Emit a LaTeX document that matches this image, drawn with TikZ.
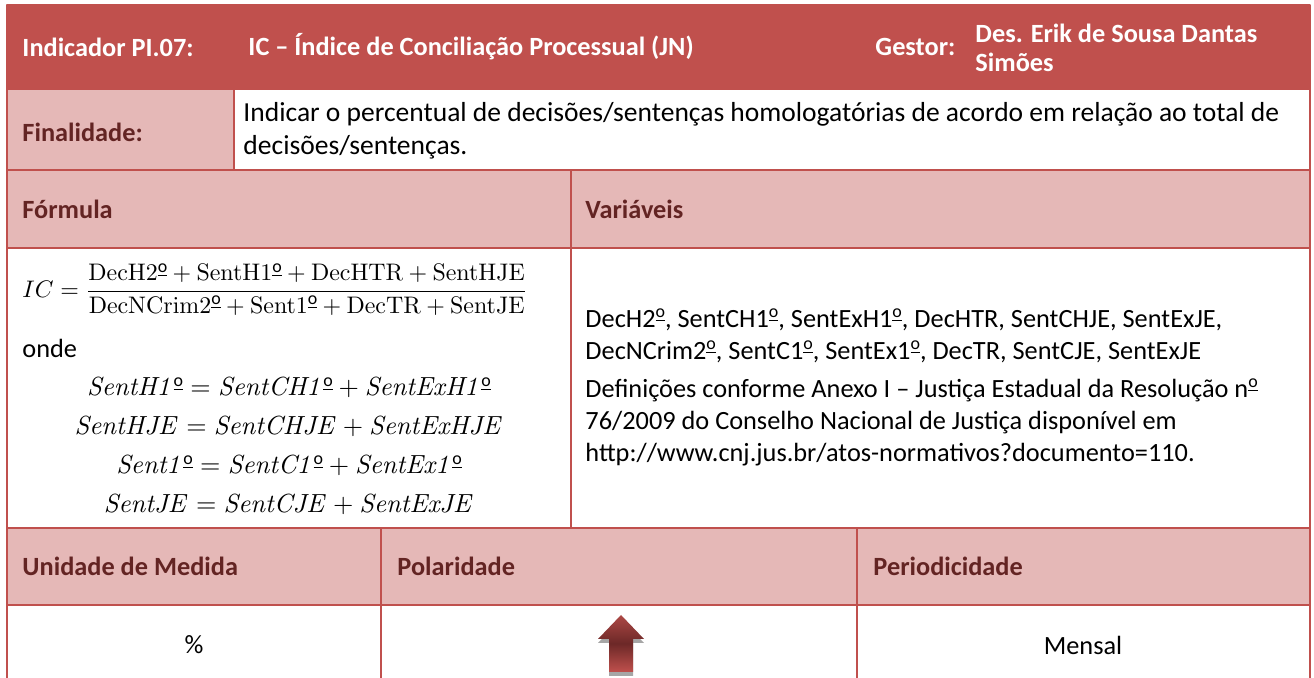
\documentclass[tikz,border=0pt]{standalone}
\usepackage{amsmath}
\usepackage[no-math]{fontspec}
\setmainfont{Carlito}
\definecolor{cabec}{HTML}{C0504D}
\definecolor{rosa}{HTML}{E5B8B7}
\definecolor{vinho}{HTML}{632423}
\definecolor{sombra}{HTML}{A6A6A6}
\newcommand{\ordm}{\raisebox{0.36em}{\fontsize{7.5}{7.5}\selectfont\underline{\smash{o}}}}
\newcommand{\mordm}{\text{\ordm}}
\begin{document}
\begin{tikzpicture}[x=0.418pt,y=-0.418pt,line join=round,font=\fontsize{11}{13.4}\selectfont]
	\tikzset{titulo/.style={anchor=west,inner sep=0pt,text=white,font=\fontsize{11}{12.2}\selectfont\bfseries},
		rotulo/.style={anchor=west,inner sep=0pt,text=vinho,font=\fontsize{11}{13.4}\selectfont\bfseries},
		texto/.style={anchor=west,align=left,inner sep=0pt},
		borda/.style={draw=cabec,line width=0.8pt}}
	\def \xa{7}\def \xb{1310}
	\useasboundingbox (0,0) rectangle (1314,678);
	% fundos
	\fill[cabec] (\xa,5) rectangle (\xb,89);
	\fill[rosa] (\xa,89) rectangle (234,170);
	\fill[rosa] (\xa,170) rectangle (\xb,248);
	\fill[rosa] (\xa,528) rectangle (\xb,605);
	% grade
	\draw[borda] (\xa,678)--(\xa,5)--(\xb,5)--(\xb,678);
	\draw[borda] (\xa,89)--(\xb,89) (\xa,170)--(\xb,170) (\xa,248)--(\xb,248)
	(\xa,528)--(\xb,528) (\xa,605)--(\xb,605);
	\draw[borda] (234,89)--(234,170) (571,170)--(571,528)
	(381,528)--(381,678) (857,528)--(857,678);
	% cabecalho
	\node[titulo] (ind) at (22,47) {Indicador PI.07:};
	\node[titulo] (nome) at (248,47) {IC – Índice de Conciliação Processual (JN)};
	\node[titulo] (gest) at (875,47) {Gestor:};
	\node[titulo,align=left] (resp) at (975,48) {Des. Erik de Sousa Dantas\\Simões};
	% finalidade
	\node[rotulo] (fin) at (22,132) {Finalidade:};
	\node[texto,font=\fontsize{11.5}{13.6}\selectfont] (fintxt) at (243,131) {Indicar o percentual de decisões/sentenças homologatórias de acordo em relação ao total de\\decisões/sentenças.};
	% formula e variaveis
	\node[rotulo] (form) at (22,209) {Fórmula};
	\node[rotulo] (var) at (585,209) {Variáveis};
	\node[texto,font=\fontsize{10.2}{13}\selectfont] (ic) at (22,290) {$IC=\dfrac{\mathrm{DecH2}\mordm+\mathrm{SentH1}\mordm+\mathrm{DecHTR}+\mathrm{SentHJE}}{\mathrm{DecNCrim2}\mordm+\mathrm{Sent1}\mordm+\mathrm{DecTR}+\mathrm{SentJE}}$};
	\node[texto] (onde) at (22,348) {onde};
	\node[align=center,inner sep=0pt,font=\fontsize{10.5}{16.3}\selectfont] (eqs) at (289,446)
	{$\mathit{SentH1}\mordm=\mathit{SentCH1}\mordm+\mathit{SentExH1}\mordm$\\
		$\mathit{SentHJE}=\mathit{SentCHJE}+\mathit{SentExHJE}$\\
		$\mathit{Sent1}\mordm=\mathit{SentC1}\mordm+\mathit{SentEx1}\mordm$\\
		$\mathit{SentJE}=\mathit{SentCJE}+\mathit{SentExJE}$};
	\node[texto] (vartxt) at (585,388) {DecH2\ordm, SentCH1\ordm, SentExH1\ordm, DecHTR, SentCHJE, SentExJE,\\
		DecNCrim2\ordm, SentC1\ordm, SentEx1\ordm, DecTR, SentCJE, SentExJE\\[2.5pt]
		Definições conforme Anexo I – Justiça Estadual da Resolução n\ordm\\
		76/2009 do Conselho Nacional de Justiça disponível em\\
		http://www.cnj.jus.br/atos-normativos?documento=110.};
	% rodape
	\node[rotulo] (uni) at (22,566) {Unidade de Medida};
	\node[rotulo] (pol) at (397,566) {Polaridade};
	\node[rotulo] (per) at (873,566) {Periodicidade};
	\node (pct) at (194,645) {\%};
	\node (mes) at (1083,645) {Mensal};
	% seta de polaridade
	\fill[sombra,shift={(0,4)}] (621,615)--(644,639)--(633,639)--(633,672)--(609,672)--(609,639)--(598,639)--cycle;
	\shade[top color=cabec!90!black,bottom color=cabec,middle color=vinho!90!cabec]
	(621,615)--(644,639)--(633,639)--(633,672)--(609,672)--(609,639)--(598,639)--cycle;
\end{tikzpicture}
\end{document}
